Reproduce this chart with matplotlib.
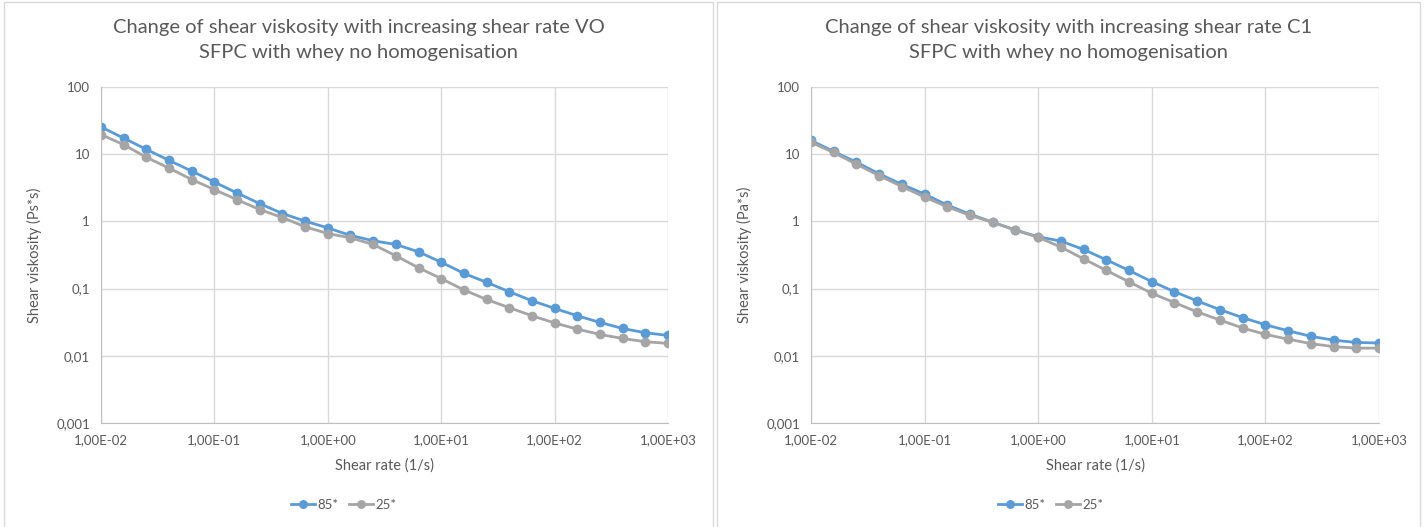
import matplotlib
matplotlib.use("Agg")
import matplotlib.pyplot as plt
from matplotlib.patches import Rectangle

plt.rcParams['font.family'] = ['Lato', 'DejaVu Sans']

# Shear rate (1/s), 5 points per decade
shear_rate = [0.01, 0.0158, 0.0251, 0.0398, 0.0631,
              0.1, 0.158, 0.251, 0.398, 0.631,
              1, 1.58, 2.51, 3.98, 6.31,
              10, 15.8, 25.1, 39.8, 63.1,
              100, 158, 251, 398, 631, 1000]

# Panel VO
vo_85 = [25.4, 17.4, 11.8, 8.1, 5.6, 3.85, 2.65, 1.84, 1.31, 1.01,
         0.80, 0.62, 0.515, 0.454, 0.353, 0.247, 0.169, 0.124, 0.090, 0.066,
         0.0508, 0.0395, 0.0314, 0.0255, 0.0220, 0.0201]
vo_25 = [19.6, 13.9, 9.0, 6.2, 4.2, 2.97, 2.11, 1.50, 1.14, 0.83,
         0.66, 0.57, 0.454, 0.308, 0.204, 0.141, 0.0957, 0.069, 0.052, 0.0395,
         0.0308, 0.0250, 0.0208, 0.0181, 0.0162, 0.0153]

# Panel C1
c1_85 = [16, 11, 7.6, 5.1, 3.55, 2.55, 1.75, 1.28, 0.97, 0.745,
         0.59, 0.51, 0.382, 0.268, 0.186, 0.127, 0.090, 0.0655, 0.0486, 0.0369,
         0.029, 0.0236, 0.0195, 0.0171, 0.0158, 0.0155]
c1_25 = [15, 10.6, 7.1, 4.8, 3.3, 2.3, 1.65, 1.23, 0.97, 0.74,
         0.58, 0.415, 0.277, 0.186, 0.126, 0.085, 0.062, 0.0449, 0.0341, 0.0259,
         0.0208, 0.0177, 0.0152, 0.0137, 0.0130, 0.0130]

x_ticks = [1e-2, 1e-1, 1e0, 1e1, 1e2, 1e3]
x_ticklabels = ["1,00E-02", "1,00E-01", "1,00E+00", "1,00E+01", "1,00E+02", "1,00E+03"]
y_ticks = [1e-3, 1e-2, 1e-1, 1, 10, 100]
y_ticklabels = ["0,001", "0,01", "0,1", "1", "10", "100"]

titles = ["Change of shear viskosity with increasing shear rate VO\nSFPC with whey no homogenisation",
          "Change of shear viskosity with increasing shear rate C1\nSFPC with whey no homogenisation"]
ylabels = ["Shear viskosity (Ps*s)", "Shear viskosity (Pa*s)"]
series = [(vo_85, vo_25), (c1_85, c1_25)]
labels = ["85*", "25*"]

BLUE = "#5B9BD5"
GRAY = "#A5A5A5"
TXT = "#595959"
GRID = "#D9D9D9"

W, H = 1427, 527
fig = plt.figure(figsize=(W / 100, H / 100), dpi=100)

# panel frames (pixels)
frames = [(4, 713), (717, 1420)]
for x0, x1 in frames:
    fig.patches.append(Rectangle((x0 / W, -0.01), (x1 - x0) / W, (H - 2) / H + 0.01,
                                 transform=fig.transFigure, fill=False,
                                 edgecolor="#D9D9D9", lw=1))

axes_px = [(101, 668), (811, 1379)]
legend_cx = [344, 1051]
for i, (xa, xb) in enumerate(axes_px):
    ax = fig.add_axes([xa / W, 1 - 423 / H, (xb - xa) / W, (423 - 87) / H])
    y85, y25 = series[i]
    ax.plot(shear_rate, y85, "-o", color=BLUE, lw=2, ms=6, label=labels[0])
    ax.plot(shear_rate, y25, "-o", color=GRAY, lw=2, ms=6, label=labels[1])
    ax.set_xscale("log")
    ax.set_yscale("log")
    ax.set_xlim(1e-2, 1e3)
    ax.set_ylim(1e-3, 100)
    ax.set_xticks(x_ticks)
    ax.set_xticklabels(x_ticklabels)
    ax.set_yticks(y_ticks)
    ax.set_yticklabels(y_ticklabels)
    ax.minorticks_off()
    ax.tick_params(length=0, labelsize=9.5, colors=TXT, pad=8)
    ax.grid(True, color=GRID, lw=1)
    ax.set_axisbelow(True)
    for s in ["top", "right"]:
        ax.spines[s].set_visible(False)
    for s in ["left", "bottom"]:
        ax.spines[s].set_color("#BFBFBF")
    ax.set_xlabel("Shear rate (1/s)", fontsize=10.5, color=TXT, labelpad=9)
    ax.set_ylabel(ylabels[i], fontsize=10.5, color=TXT, labelpad=10)

    # title centred on the panel frame
    cx = (frames[i][0] + frames[i][1]) / 2 / W
    fig.text(cx, 1 - 40 / H, titles[i], ha="center", va="center",
             fontsize=14.5, color=TXT, linespacing=1.55)

    leg = fig.legend(handles=ax.get_lines(), labels=labels, loc="center",
                     bbox_to_anchor=(legend_cx[i] / W, 1 - 505 / H), ncol=2,
                     frameon=False, fontsize=9.5, handlelength=1.8,
                     columnspacing=0.8, handletextpad=0.2, markerscale=0.9,
                     borderpad=0)
    for t in leg.get_texts():
        t.set_color(TXT)

fig.savefig("out.png", dpi=100)
